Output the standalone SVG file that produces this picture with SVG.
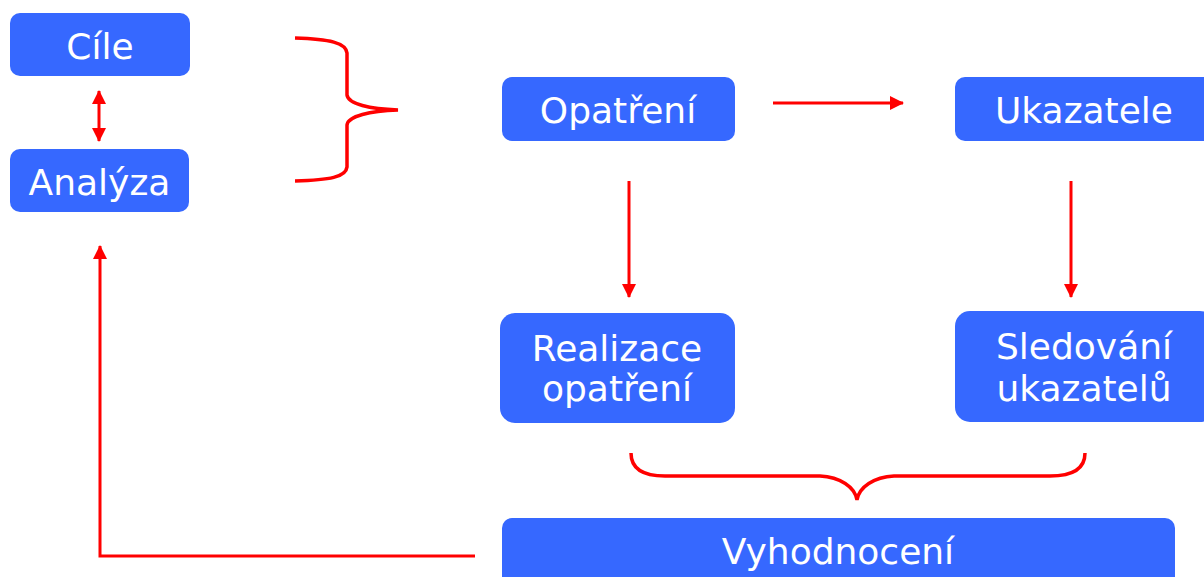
<svg xmlns="http://www.w3.org/2000/svg" width="1204" height="577" viewBox="0 0 1204 577">
<style>
.box{fill:#3668FF;}
.lbl{font-family:"DejaVu Sans",Verdana,sans-serif;font-size:36px;fill:#FFFFFF;text-anchor:middle;}
.con{fill:none;stroke:#FF0000;stroke-width:3;}
.br{fill:none;stroke:#FF0000;stroke-width:3.5;}
</style>
<defs>
<marker id="ah" markerUnits="userSpaceOnUse" markerWidth="14" markerHeight="14" viewBox="0 0 14 14" refX="13" refY="7" orient="auto-start-reverse">
<path d="M0,0 L14,7 L0,14 Z" fill="#FF0000"/>
</marker>
</defs>
<rect width="1204" height="577" fill="#FFFFFF"/>
<g id="connectors">
<line class="con" x1="99" y1="91" x2="99" y2="141" marker-start="url(#ah)" marker-end="url(#ah)"/>
<path class="br" d="M295,38 C330,39 346,43 347,53 L347,95 C348,104 370,109 398,110 C370,111 348,116 347,125 L347,167 C346,177 330,180 295,181"/>
<line class="con" x1="773" y1="103" x2="903" y2="103" marker-end="url(#ah)"/>
<line class="con" x1="629" y1="181" x2="629" y2="297" marker-end="url(#ah)"/>
<line class="con" x1="1071" y1="181" x2="1071" y2="297" marker-end="url(#ah)"/>
<path class="br" d="M631,453 C631,467 640,476 665,476 L820,476 C840,477 855,487 857,500 C859,487 874,477 894,476 L1050,476 C1075,476 1085,467 1085,453"/>
<polyline class="con" points="475,556 100,556 100,246" marker-end="url(#ah)"/>
</g>
<g id="cile"><rect class="box" x="10" y="13" width="180" height="63" rx="10"/><text class="lbl" x="100" y="59">Cíle</text></g>
<g id="analyza"><rect class="box" x="10" y="149" width="179" height="63" rx="10"/><text class="lbl" x="99.5" y="195">Analýza</text></g>
<g id="opatreni"><rect class="box" x="502" y="77" width="233" height="64" rx="10"/><text class="lbl" x="618" y="123">Opatření</text></g>
<g id="ukazatele"><rect class="box" x="955" y="77" width="260" height="64" rx="10"/><text class="lbl" x="1084" y="123">Ukazatele</text></g>
<g id="realizace"><rect class="box" x="500" y="313" width="235" height="110" rx="15"/><text class="lbl" x="617" y="361">Realizace</text><text class="lbl" x="617" y="401">opatření</text></g>
<g id="sledovani"><rect class="box" x="955" y="311" width="260" height="111" rx="15"/><text class="lbl" x="1084" y="359">Sledování</text><text class="lbl" x="1084" y="401">ukazatelů</text></g>
<g id="vyhodnoceni"><rect class="box" x="502" y="518" width="673" height="80" rx="10"/><text class="lbl" x="838" y="564">Vyhodnocení</text></g>
</svg>
